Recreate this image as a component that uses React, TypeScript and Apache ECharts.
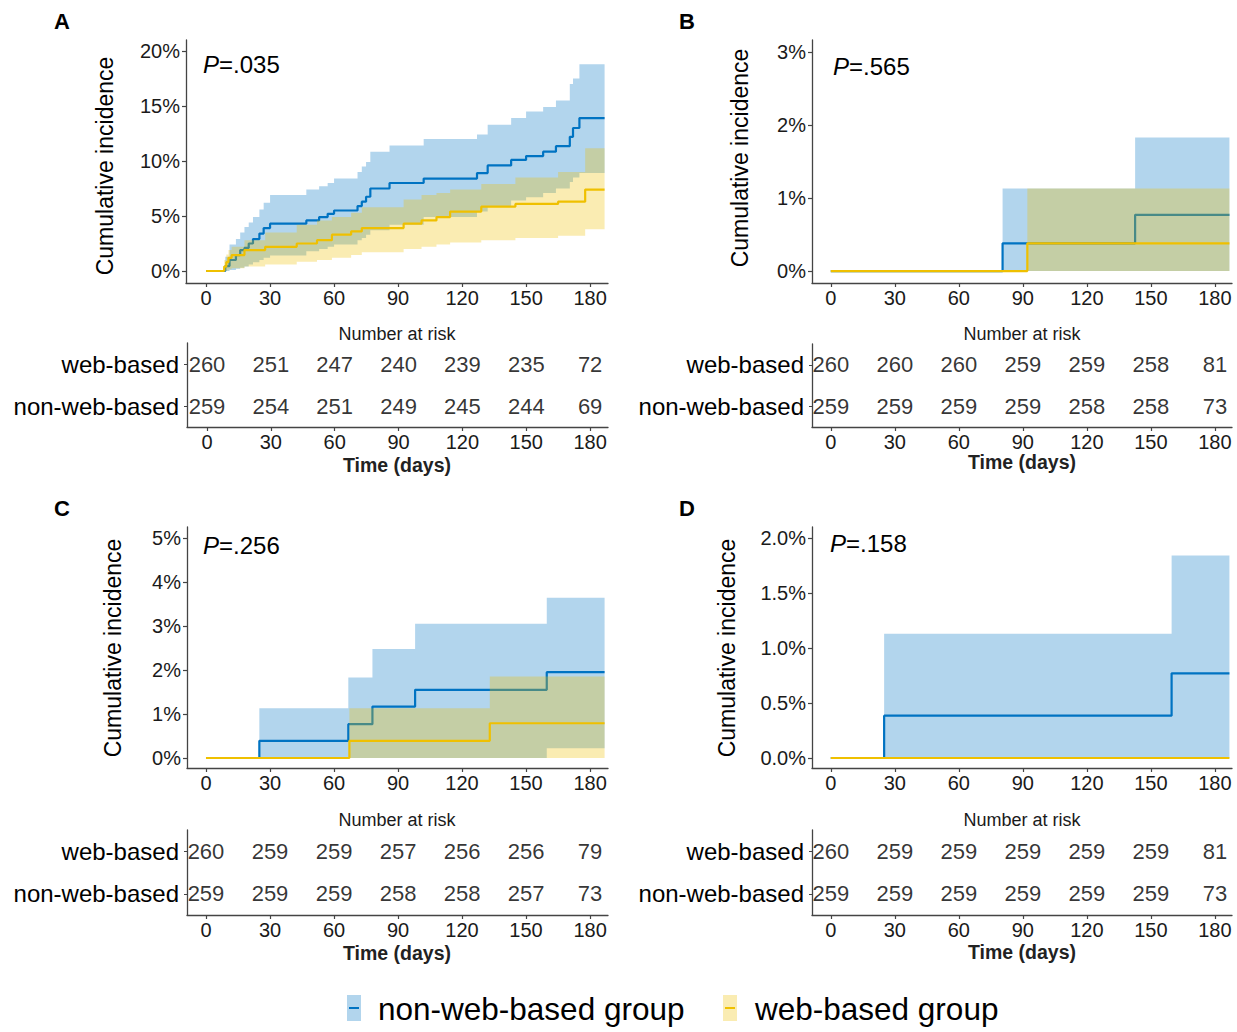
import React, { useEffect, useRef } from 'react';
import * as echarts from 'echarts';

const FONT = '"Liberation Sans", Arial, Helvetica, sans-serif';
const BLUE = '#0073C2';
const YELLOW = '#EFC000';
const BLUE_FILL = 'rgba(0,115,194,0.3)';
const YELLOW_FILL = 'rgba(239,192,0,0.3)';
const TEXT = '#1a1a1a';
const AXIS = '#444';

const timeTicks = [0, 30, 60, 90, 120, 150, 180];
const groupNames = ['non-web-based', 'web-based'];
const legendNames = ['non-web-based group', 'web-based group'];
const END_DAY = 186.8;

// rows: [day, estimate %, lower CI %, upper CI %]
const aNonWeb = [
  [0, 0, 0, 0], [9, 0.45, 0, 1.3], [11, 1.0, 0.1, 2.4], [14, 1.45, 0.2, 2.9], [16, 1.9, 0.3, 3.5],
  [18, 2.1, 0.4, 4.0], [20, 2.5, 0.6, 4.4], [22, 2.9, 0.8, 4.9], [25, 3.4, 1.0, 5.6], [27, 3.9, 1.2, 6.2],
  [30, 4.3, 1.4, 6.9], [47, 4.6, 1.8, 7.4], [53, 4.9, 2.0, 7.7], [57, 5.2, 2.2, 8.0], [60, 5.5, 2.4, 8.4],
  [71, 5.9, 2.8, 9.0], [73, 6.3, 3.0, 9.5], [75, 6.75, 3.3, 9.9], [77, 7.5, 3.7, 10.85], [86, 8.0, 4.2, 11.4],
  [102, 8.4, 4.9, 12.0], [127, 8.9, 5.4, 12.4], [132, 9.6, 5.9, 13.3], [143, 10.1, 6.4, 13.9],
  [150, 10.45, 6.7, 14.5], [158, 10.85, 7.1, 14.9], [164, 11.35, 7.5, 15.5], [170.5, 12.2, 8.1, 17.0],
  [172, 13.0, 8.5, 17.5], [175, 13.9, 8.9, 18.8]
];
const aWeb = [
  [0, 0, 0, 0], [8.5, 0.4, 0, 1.0], [9.5, 0.8, 0.05, 1.5], [10.5, 1.2, 0.15, 1.9], [12, 1.45, 0.25, 2.2],
  [18, 1.9, 0.4, 2.8], [27.7, 2.2, 0.6, 3.5], [42.5, 2.5, 0.85, 4.2], [52, 2.8, 1.0, 4.6], [59, 3.3, 1.2, 4.9],
  [68, 3.6, 1.45, 5.3], [73, 3.9, 1.7, 5.8], [92.6, 4.3, 2.0, 6.5], [101, 4.6, 2.2, 6.9], [108, 4.9, 2.4, 7.1],
  [114.4, 5.4, 2.6, 7.4], [129, 5.85, 2.8, 7.9], [145, 6.1, 3.0, 8.5], [165, 6.3, 3.2, 9.0],
  [177.7, 7.4, 3.8, 11.15]
];
const bNonWeb = [[0, 0, 0, 0], [80.5, 0.38, 0, 1.13], [142.6, 0.77, 0, 1.83]];
const bWeb = [[0, 0, 0, 0], [92.1, 0.38, 0, 1.13]];
const cNonWeb = [
  [0, 0, 0, 0], [25, 0.39, 0, 1.13], [66.7, 0.77, 0, 1.83], [78, 1.17, 0, 2.48],
  [98, 1.55, 0, 3.05], [159.7, 1.95, 0.22, 3.64]
];
const cWeb = [[0, 0, 0, 0], [67.2, 0.39, 0, 1.13], [133, 0.79, 0, 1.85]];
const dNonWeb = [[0, 0, 0, 0], [25, 0.385, 0, 1.13], [159.7, 0.77, 0, 1.84]];
const dWeb = [[0, 0, 0, 0]];

const aYTicks = [0, 5, 10, 15, 20];
const bYTicks = [0, 1, 2, 3];
const cYTicks = [0, 1, 2, 3, 4, 5];
const dYTicks = [0, 0.5, 1, 1.5, 2];

const aRiskWeb = [260, 251, 247, 240, 239, 235, 72];
const aRiskNon = [259, 254, 251, 249, 245, 244, 69];
const bRiskWeb = [260, 260, 260, 259, 259, 258, 81];
const bRiskNon = [259, 259, 259, 259, 258, 258, 73];
const cRiskWeb = [260, 259, 259, 257, 256, 256, 79];
const cRiskNon = [259, 259, 259, 258, 258, 257, 73];
const dRiskWeb = [260, 259, 259, 259, 259, 259, 81];
const dRiskNon = [259, 259, 259, 259, 259, 259, 73];

const pValues = ['.035', '.565', '.256', '.158'];
const panelLetters = ['A', 'B', 'C', 'D'];

const panels = [
  {
    grid: { left: 186, top: 40, width: 422, height: 243 }, table: { left: 187, top: 343, width: 421, height: 84 },
    xMin: -9.4, xMax: 188.4, yMin: -1.09, yMax: 21.0, yTicks: aYTicks, yDigits: 0,
    non: aNonWeb, web: aWeb, riskWeb: aRiskWeb, riskNon: aRiskNon,
    pPos: [203, 64], letterPos: [62, 21], yTitle: [105, 166], nar: [397, 334], time: [397, 465]
  },
  {
    grid: { left: 812, top: 40, width: 420, height: 243 }, table: { left: 812, top: 344, width: 420, height: 83 },
    xMin: -8.8, xMax: 188.0, yMin: -0.164, yMax: 3.164, yTicks: bYTicks, yDigits: 0,
    non: bNonWeb, web: bWeb, riskWeb: bRiskWeb, riskNon: bRiskNon,
    pPos: [833, 66], letterPos: [687, 21], yTitle: [740, 158], nar: [1022, 334], time: [1022, 462]
  },
  {
    grid: { left: 187, top: 527, width: 421, height: 241 }, table: { left: 187, top: 830, width: 421, height: 85 },
    xMin: -8.9, xMax: 188.4, yMin: -0.227, yMax: 5.25, yTicks: cYTicks, yDigits: 0,
    non: cNonWeb, web: cWeb, riskWeb: cRiskWeb, riskNon: cRiskNon,
    pPos: [203, 545], letterPos: [62, 508], yTitle: [113, 648], nar: [397, 820], time: [397, 953]
  },
  {
    grid: { left: 812, top: 527, width: 420, height: 241 }, table: { left: 812, top: 830, width: 420, height: 85 },
    xMin: -8.8, xMax: 188.0, yMin: -0.091, yMax: 2.1, yTicks: dYTicks, yDigits: 1,
    non: dNonWeb, web: dWeb, riskWeb: dRiskWeb, riskNon: dRiskNon,
    pPos: [830, 543], letterPos: [687, 508], yTitle: [727, 648], nar: [1022, 820], time: [1022, 952]
  }
];

function bandSeries(rows: number[][], fill: string, axisIdx: number, z: number) {
  return {
    type: 'custom',
    xAxisIndex: axisIdx,
    yAxisIndex: axisIdx,
    silent: true,
    z,
    data: rows,
    encode: { x: 0, y: 3 },
    renderItem: (params: any, api: any) => {
      if (params.dataIndex !== 0) return null;
      const pts: number[][] = [];
      const n = rows.length;
      for (let i = 0; i < n; i++) {
        const t0 = rows[i][0];
        const t1 = i + 1 < n ? rows[i + 1][0] : END_DAY;
        pts.push(api.coord([t0, rows[i][3]]), api.coord([t1, rows[i][3]]));
      }
      for (let i = n - 1; i >= 0; i--) {
        const t0 = rows[i][0];
        const t1 = i + 1 < n ? rows[i + 1][0] : END_DAY;
        pts.push(api.coord([t1, rows[i][2]]), api.coord([t0, rows[i][2]]));
      }
      return { type: 'polygon', shape: { points: pts }, style: { fill, stroke: 'none' } };
    }
  };
}

function lineSeries(rows: number[][], color: string, axisIdx: number, z: number) {
  const data = rows.map((r) => [r[0], r[1]]);
  data.push([END_DAY, rows[rows.length - 1][1]]);
  return {
    type: 'line',
    step: 'end',
    xAxisIndex: axisIdx,
    yAxisIndex: axisIdx,
    silent: true,
    z,
    data,
    symbol: 'none',
    showSymbol: false,
    lineStyle: { color, width: 2.2 },
    itemStyle: { color }
  };
}

function buildOption() {
  const grids: any[] = [];
  const xAxes: any[] = [];
  const yAxes: any[] = [];
  const series: any[] = [];
  const graphics: any[] = [];

  panels.forEach((p, k) => {
    const gi = k * 2;
    const ti = k * 2 + 1;
    grids.push({ ...p.grid, containLabel: false });
    grids.push({ ...p.table, containLabel: false });

    const xBase = {
      type: 'value', min: p.xMin, max: p.xMax,
      splitLine: { show: false },
      axisLine: { show: true, onZero: false, lineStyle: { color: AXIS, width: 1.3 } },
      axisTick: { show: true, length: 4, customValues: timeTicks, lineStyle: { color: AXIS, width: 1.2 } },
      axisLabel: { customValues: timeTicks, fontSize: 20, color: TEXT, fontFamily: FONT, margin: 5 }
    };
    xAxes.push({ ...xBase, gridIndex: gi });
    xAxes.push({ ...xBase, gridIndex: ti });

    yAxes.push({
      type: 'value', gridIndex: gi, min: p.yMin, max: p.yMax,
      splitLine: { show: false },
      axisLine: { show: true, onZero: false, lineStyle: { color: AXIS, width: 1.3 } },
      axisTick: { show: true, length: 4, customValues: p.yTicks, lineStyle: { color: AXIS, width: 1.2 } },
      axisLabel: {
        customValues: p.yTicks, fontSize: 20, color: TEXT, fontFamily: FONT, margin: 6,
        formatter: (v: number) => v.toFixed(p.yDigits) + '%'
      }
    });
    yAxes.push({
      type: 'category', gridIndex: ti, data: groupNames,
      splitLine: { show: false },
      axisLine: { show: true, onZero: false, lineStyle: { color: AXIS, width: 1.3 } },
      axisTick: { show: true, length: 3, alignWithLabel: true, lineStyle: { color: AXIS } },
      axisLabel: { fontSize: 24, color: '#000', fontFamily: FONT, margin: 8 }
    });

    series.push(bandSeries(p.non, BLUE_FILL, gi, 1));
    series.push(lineSeries(p.non, BLUE, gi, 2));
    series.push(bandSeries(p.web, YELLOW_FILL, gi, 3));
    series.push(lineSeries(p.web, YELLOW, gi, 4));

    const riskData: any[] = [];
    p.riskWeb.forEach((n, i) => riskData.push([timeTicks[i], groupNames[1], n]));
    p.riskNon.forEach((n, i) => riskData.push([timeTicks[i], groupNames[0], n]));
    series.push({
      type: 'scatter', xAxisIndex: ti, yAxisIndex: ti, silent: true,
      symbolSize: 1, itemStyle: { color: 'rgba(0,0,0,0)' },
      data: riskData,
      label: {
        show: true, position: 'inside', fontSize: 22, color: '#000', fontFamily: FONT,
        formatter: (prm: any) => String(prm.value[2])
      }
    });

    graphics.push({
      type: 'text', x: p.letterPos[0], y: p.letterPos[1],
      style: { text: panelLetters[k], fontSize: 22, fontWeight: 'bold', fontFamily: FONT, fill: '#000', align: 'center', verticalAlign: 'middle' }
    });
    graphics.push({
      type: 'text', x: p.pPos[0], y: p.pPos[1],
      style: {
        text: '{i|P}{n|=' + pValues[k] + '}',
        align: 'left', verticalAlign: 'middle',
        rich: {
          i: { fontSize: 24, fontStyle: 'italic', fontFamily: FONT, fill: '#000' },
          n: { fontSize: 24, fontFamily: FONT, fill: '#000' }
        }
      }
    });
    graphics.push({
      type: 'text', x: p.yTitle[0], y: p.yTitle[1], rotation: Math.PI / 2,
      style: { text: 'Cumulative incidence', fontSize: 23, fontFamily: FONT, fill: '#000', align: 'center', verticalAlign: 'middle' }
    });
    graphics.push({
      type: 'text', x: p.nar[0], y: p.nar[1],
      style: { text: 'Number at risk', fontSize: 18, fontFamily: FONT, fill: TEXT, align: 'center', verticalAlign: 'middle' }
    });
    graphics.push({
      type: 'text', x: p.time[0], y: p.time[1],
      style: { text: 'Time (days)', fontSize: 19.5, fontWeight: 'bold', fontFamily: FONT, fill: '#222', align: 'center', verticalAlign: 'middle' }
    });
  });

  // legend
  const legendItems = [
    { x: 347, textX: 378, fill: BLUE_FILL, color: BLUE, name: legendNames[0] },
    { x: 723, textX: 755, fill: YELLOW_FILL, color: YELLOW, name: legendNames[1] }
  ];
  legendItems.forEach((it) => {
    graphics.push({ type: 'rect', shape: { x: it.x, y: 995, width: 14, height: 26 }, style: { fill: it.fill } });
    graphics.push({ type: 'line', shape: { x1: it.x + 2, y1: 1008, x2: it.x + 12, y2: 1008 }, style: { stroke: it.color, lineWidth: 2 } });
    graphics.push({
      type: 'text', x: it.textX, y: 1009,
      style: { text: it.name, fontSize: 31.5, fontFamily: FONT, fill: '#000', align: 'left', verticalAlign: 'middle' }
    });
  });

  return {
    animation: false,
    backgroundColor: '#ffffff',
    grid: grids,
    xAxis: xAxes,
    yAxis: yAxes,
    series,
    graphic: graphics
  };
}

export default function App() {
  const ref = useRef<HTMLDivElement>(null);
  useEffect(() => {
    document.body.style.margin = '0';
    if (!ref.current) return;
    const chart = echarts.init(ref.current, undefined, { renderer: 'svg' });
    chart.setOption(buildOption() as any);
    return () => chart.dispose();
  }, []);
  return <div ref={ref} style={{ width: 1237, height: 1032 }} />;
}
